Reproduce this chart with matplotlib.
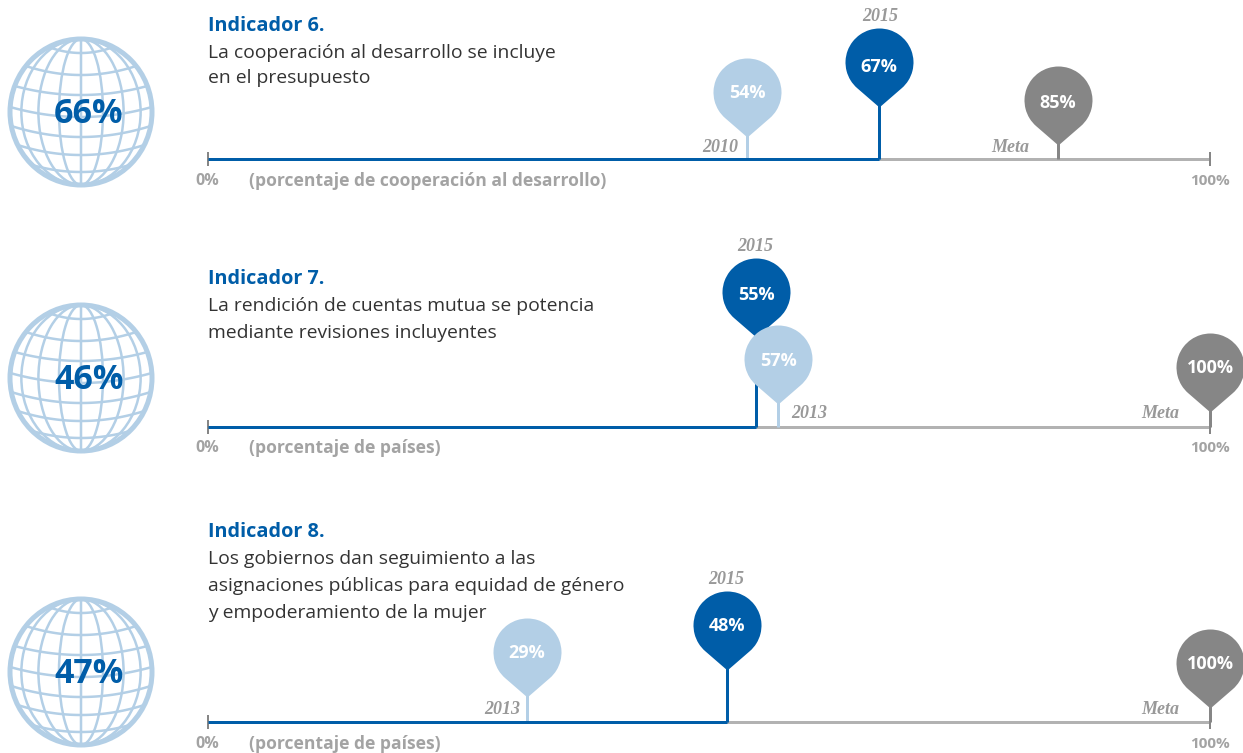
import numpy as np
import matplotlib
matplotlib.use("Agg")
import matplotlib.pyplot as plt
from matplotlib.path import Path
from matplotlib.patches import Ellipse

plt.rcParams["font.family"] = ["Open Sans", "DejaVu Sans"]

W, H = 1243, 753
BLUE = "#005da8"
LIGHT = "#b3cfe6"
GREY = "#868686"
LINE_GREY = "#b2b2b2"
TXT_GREY = "#a3a3a3"

# summary value on each globe
globe_labels = ["66%", "46%", "47%"]
indicators = ["Indicador 6.", "Indicador 7.", "Indicador 8."]
descriptions = [
    ["La cooperación al desarrollo se incluye", "en el presupuesto"],
    ["La rendición de cuentas mutua se potencia", "mediante revisiones incluyentes"],
    ["Los gobiernos dan seguimiento a las",
     "asignaciones públicas para equidad de género",
     "y empoderamiento de la mujer"],
]
units = ["(porcentaje de cooperación al desarrollo)",
         "(porcentaje de países)",
         "(porcentaje de países)"]

# place on the 0-100 line (the third row sits off its printed value in the original)
baseline_pos = [53.8, 56.9, 31.8]
latest_pos = [66.95, 54.7, 51.8]
target_pos = [84.8, 100.0, 100.0]
# printed values
baseline_vals = ["54%", "57%", "29%"]
latest_vals = ["67%", "55%", "48%"]
target_vals = ["85%", "100%", "100%"]
baseline_years = ["2010", "2013", "2013"]
latest_years = ["2015", "2015", "2015"]

# pixel layout of the rows
row_y = [159, 427, 722]
globe_y = [112, 378, 672]
title_y = [26, 279, 532]
body_y = [53, 306, 559]
line_gap = [25, 27, 27]
unit_y = [181, 448, 744]
base_h = [67, 68, 70]
latest_h = [97, 135, 97]
target_h = [59, 60, 59]
# how far each printed value sits below the middle of its pin head
base_dy = [0, 1, 0]
latest_dy = [4, 2, 0]
target_dy = [2, 0, 0]
base_year_xy = [(720, 147), (809, 413), (502, 709)]
latest_year_xy = [(880, 16), (755, 246), (726, 579)]
meta_xy = [(1010, 147), (1160, 413), (1160, 709)]

# globe drawing: rim height and middle height of each parallel, off the centre
par_end = [-65, -46, -26, -5, 14, 33, 53]
par_mid = [-59, -37, -17, 5, 25, 43, 60]
mer_frac = [0.84, 0.6, 0.31]

X0, X1 = 208, 1210
PX = 72 / 100
R_HEAD, TIP = 34, 45


def pin_marker():
    """round head with a point at the bottom"""
    a = np.degrees(np.arccos(R_HEAD / TIP))
    arc = Path.arc(-90 + a, 270 - a)
    verts = arc.vertices * R_HEAD
    codes = arc.codes
    verts = np.vstack([verts, [0, -TIP], verts[0]])
    codes = np.concatenate([codes, [Path.LINETO, Path.CLOSEPOLY]])
    return Path(verts, codes)


PIN = pin_marker()


def draw_pin(ax, pos, h, color, label, dy):
    top = h - TIP + 3
    ax.plot([pos, pos], [0, top], color=color, lw=3 * PX, solid_capstyle="butt",
            clip_on=False)
    ax.plot([pos], [h], marker=PIN, ms=2 * TIP * PX, mfc=color, mew=0,
            clip_on=False, ls="none")
    ax.text(pos, h - 1 - dy, label, color="white", fontsize=13, fontweight="bold",
            ha="center", va="center", clip_on=False)


def draw_globe(ax, cx, cy):
    rx, ry = 71, 73
    for f in mer_frac:
        ax.add_patch(Ellipse((cx, cy), 2 * rx * f, 2 * ry, fc="none", ec=LIGHT,
                             lw=2.5 * PX))
    ax.plot([cx, cx], [cy - ry, cy + ry], color=LIGHT, lw=2.5 * PX)
    t = np.linspace(-1, 1, 60)
    for end, mid in zip(par_end, par_mid):
        ex = rx * np.sqrt(1 - (end / ry) ** 2)
        ax.plot(cx + ex * t, cy + mid + (end - mid) * t ** 2, color=LIGHT,
                lw=2.5 * PX)
    ax.add_patch(Ellipse((cx, cy), 2 * rx, 2 * ry, fc="none", ec=LIGHT, lw=5 * PX))


def main():
    fig = plt.figure(figsize=(W / 100, H / 100), dpi=100)
    bg = fig.add_axes([0, 0, 1, 1])
    bg.set_xlim(0, W)
    bg.set_ylim(H, 0)
    bg.axis("off")

    for i in range(3):
        draw_globe(bg, 81, globe_y[i])
        bg.text(89, globe_y[i] + 2, globe_labels[i], color=BLUE, fontsize=24.5,
                fontweight="bold", ha="center", va="center")
        bg.text(X0, title_y[i], indicators[i], color=BLUE, fontsize=14.3,
                fontweight="bold", va="center")
        for j, line in enumerate(descriptions[i]):
            bg.text(X0, body_y[i] + j * line_gap[i], line, color="#333333",
                    fontsize=13.85, va="center")
        bg.text(207, unit_y[i], "0%", color=TXT_GREY, fontsize=11.5,
                fontweight="bold", ha="center", va="center")
        bg.text(249, unit_y[i], units[i], color=TXT_GREY, fontsize=12.6,
                fontweight="bold", va="center")
        bg.text(1210, unit_y[i], "100%", color=TXT_GREY, fontsize=11,
                fontweight="bold", ha="center", va="center")
        for (x, y), s in [(base_year_xy[i], baseline_years[i]),
                          (latest_year_xy[i], latest_years[i]),
                          (meta_xy[i], "Meta")]:
            bg.text(x, y, s, color="#999999", fontsize=13, style="italic",
                    fontweight="bold", family="Liberation Serif",
                    ha="center", va="center")

        ax = fig.add_axes([X0 / W, (H - row_y[i]) / H, (X1 - X0) / W, 140 / H])
        ax.patch.set_alpha(0)
        ax.set_xlim(0, 100)
        ax.set_ylim(0, 140)
        ax.axis("off")
        ax.plot([0, 100], [0, 0], color=LINE_GREY, lw=3 * PX, clip_on=False,
                solid_capstyle="butt")
        for x in (0, 100):
            ax.plot([x, x], [-7, 7], color=GREY, lw=2 * PX, clip_on=False,
                    solid_capstyle="butt")
        draw_pin(ax, target_pos[i], target_h[i], GREY, target_vals[i], target_dy[i])
        draw_pin(ax, latest_pos[i], latest_h[i], BLUE, latest_vals[i], latest_dy[i])
        draw_pin(ax, baseline_pos[i], base_h[i], LIGHT, baseline_vals[i], base_dy[i])
        ax.plot([0, latest_pos[i]], [0, 0], color=BLUE, lw=3 * PX, clip_on=False,
                solid_capstyle="butt")

    fig.savefig("out.png", dpi=100)


if __name__ == "__main__":
    main()
